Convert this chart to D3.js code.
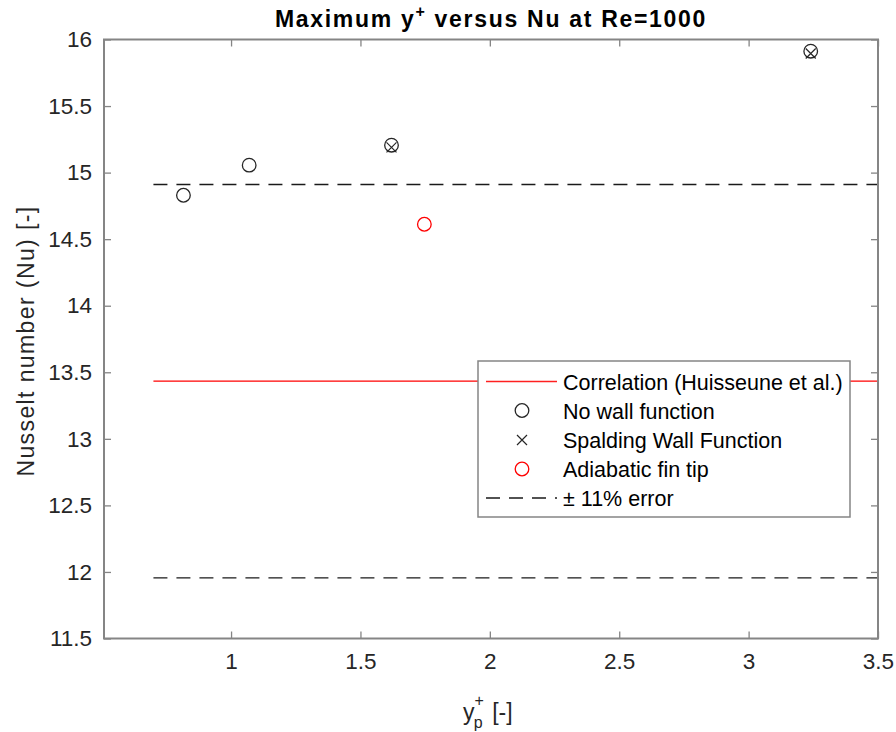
<!DOCTYPE html>
<html>
<head>
<meta charset="utf-8">
<script src="https://cdn.jsdelivr.net/npm/d3@7"></script>
<style>
  body { margin: 0; background: #fff; }
  text { font-family: "Liberation Sans", Arial, sans-serif; }
</style>
</head>
<body>
<script>
// values
var noWallX = [0.816, 1.07, 1.62, 3.24];
var noWallY = [14.83, 15.056, 15.206, 15.912];
var spaldingX = [1.62, 3.24];
var spaldingY = [15.19, 15.895];
var adiabaticX = [1.747];
var adiabaticY = [14.612];
var correlation = 13.433;
var errorPct = 0.11;
var lineStart = 0.70;
var xTicks = [1, 1.5, 2, 2.5, 3, 3.5];
var yTicks = [11.5, 12, 12.5, 13, 13.5, 14, 14.5, 15, 15.5, 16];
var legendLabels = ["Correlation (Huisseune et al.)", "No wall function",
                    "Spalding Wall Function", "Adiabatic fin tip", "\u00b1 11% error"];

var width = 896, height = 732;
var plotL = 104, plotR = 878, plotT = 39.5, plotB = 638.5;

var svg = d3.select("body").append("svg")
    .attr("width", width)
    .attr("height", height);

var x = d3.scaleLinear().domain([0.509, 3.5]).range([plotL, plotR]);
var y = d3.scaleLinear().domain([11.5, 16]).range([plotB, plotT]);

var axisColor = "#858585";
var textColor = "#262626";

// reference lines
var lo = x(lineStart), hi = x(3.5);
svg.append("line")
    .attr("x1", lo).attr("x2", hi)
    .attr("y1", y(correlation)).attr("y2", y(correlation))
    .attr("stroke", "#ff0000").attr("stroke-width", 1.2);

[correlation * (1 + errorPct), correlation * (1 - errorPct)].forEach(function(v) {
  svg.append("line")
      .attr("x1", lo).attr("x2", hi)
      .attr("y1", y(v)).attr("y2", y(v))
      .attr("stroke", "#1a1a1a").attr("stroke-width", 1.3)
      .attr("stroke-dasharray", "14,9");
});

// axes
function styleAxis(g) {
  g.select(".domain").remove();
  g.selectAll(".tick line").attr("stroke", axisColor).attr("stroke-width", 1.3);
  g.selectAll(".tick text").attr("fill", textColor)
      .style("font-size", "22.5px");
}

svg.append("g").attr("transform", "translate(0," + plotB + ")")
    .call(d3.axisBottom(x).tickValues(xTicks).tickSize(-7).tickPadding(15)
          .tickFormat(d3.format("")))
    .call(styleAxis);
svg.append("g").attr("transform", "translate(0," + plotT + ")")
    .call(d3.axisTop(x).tickValues(xTicks).tickSize(-7).tickFormat(""))
    .call(styleAxis);
svg.append("g").attr("transform", "translate(" + plotL + ",0)")
    .call(d3.axisLeft(y).tickValues(yTicks).tickSize(-7).tickPadding(12)
          .tickFormat(d3.format("")))
    .call(styleAxis);
svg.append("g").attr("transform", "translate(" + plotR + ",0)")
    .call(d3.axisRight(y).tickValues(yTicks).tickSize(-7).tickFormat(""))
    .call(styleAxis);

svg.append("rect")
    .attr("x", plotL).attr("y", plotT)
    .attr("width", plotR - plotL).attr("height", plotB - plotT)
    .attr("fill", "none").attr("stroke", axisColor).attr("stroke-width", 2);

// markers
function circles(xs, ys, color) {
  svg.selectAll(null).data(xs).enter().append("circle")
      .attr("cx", function(d) { return x(d); })
      .attr("cy", function(d, i) { return y(ys[i]); })
      .attr("r", 6.8)
      .attr("fill", "none").attr("stroke", color).attr("stroke-width", 1.3);
}
function crosses(xs, ys, color) {
  var s = 5;
  svg.selectAll(null).data(xs).enter().append("path")
      .attr("d", function(d, i) {
        var cx = x(d), cy = y(ys[i]);
        return "M" + (cx - s) + "," + (cy - s) + "L" + (cx + s) + "," + (cy + s) +
               "M" + (cx - s) + "," + (cy + s) + "L" + (cx + s) + "," + (cy - s);
      })
      .attr("fill", "none").attr("stroke", color).attr("stroke-width", 1.2);
}
circles(noWallX, noWallY, "#262626");
crosses(spaldingX, spaldingY, "#262626");
circles(adiabaticX, adiabaticY, "#ff0000");

// legend
var lg = svg.append("g");
lg.append("rect")
    .attr("x", 478).attr("y", 361).attr("width", 372).attr("height", 156)
    .attr("fill", "#fff").attr("stroke", axisColor).attr("stroke-width", 1.5);

var rowY = [381.5, 410.5, 440, 469, 498];
lg.append("line").attr("x1", 486).attr("x2", 557)
    .attr("y1", rowY[0]).attr("y2", rowY[0])
    .attr("stroke", "#ff2020").attr("stroke-width", 1.4);
lg.append("circle").attr("cx", 522).attr("cy", rowY[1]).attr("r", 6.8)
    .attr("fill", "none").attr("stroke", "#262626").attr("stroke-width", 1.3);
lg.append("path")
    .attr("d", "M517," + (rowY[2] - 5) + "L527," + (rowY[2] + 5) +
               "M517," + (rowY[2] + 5) + "L527," + (rowY[2] - 5))
    .attr("stroke", "#262626").attr("stroke-width", 1.2);
lg.append("circle").attr("cx", 522).attr("cy", rowY[3]).attr("r", 6.8)
    .attr("fill", "none").attr("stroke", "#ff0000").attr("stroke-width", 1.3);
lg.append("line").attr("x1", 486).attr("x2", 557)
    .attr("y1", rowY[4]).attr("y2", rowY[4])
    .attr("stroke", "#1a1a1a").attr("stroke-width", 1.3)
    .attr("stroke-dasharray", "14,9");

lg.selectAll("text.lab").data(legendLabels).enter().append("text")
    .attr("class", "lab")
    .attr("x", 563)
    .attr("y", function(d, i) { return rowY[i] + 8; })
    .attr("fill", "#000")
    .style("font-size", "21.5px")
    .text(function(d) { return d; });

// title
var title = svg.append("text")
    .attr("x", 491).attr("y", 27)
    .attr("text-anchor", "middle")
    .style("font-size", "23px").style("font-weight", "bold")
    .style("letter-spacing", "1.7px")
    .attr("fill", "#000");
title.append("tspan").text("Maximum y");
title.append("tspan").attr("dy", -10).style("font-size", "16px").text("+");
title.append("tspan").attr("dy", 10).text(" versus Nu at Re=1000");

// axis labels
svg.append("text")
    .attr("transform", "translate(34,341) rotate(-90)")
    .attr("text-anchor", "middle")
    .attr("fill", textColor)
    .style("font-size", "23px")
    .style("letter-spacing", "1.4px")
    .text("Nusselt number (Nu) [-]");

var xl = svg.append("text")
    .attr("x", 463).attr("y", 720)
    .attr("fill", textColor)
    .style("font-size", "23px");
xl.append("tspan").text("y");
xl.append("tspan").attr("dy", -14).attr("dx", 0).style("font-size", "16px").text("+");
xl.append("tspan").attr("dy", 22).attr("dx", -10).style("font-size", "16px").text("p");
xl.append("tspan").attr("dy", -8).attr("dx", 3).text(" [-]");
</script>
</body>
</html>
